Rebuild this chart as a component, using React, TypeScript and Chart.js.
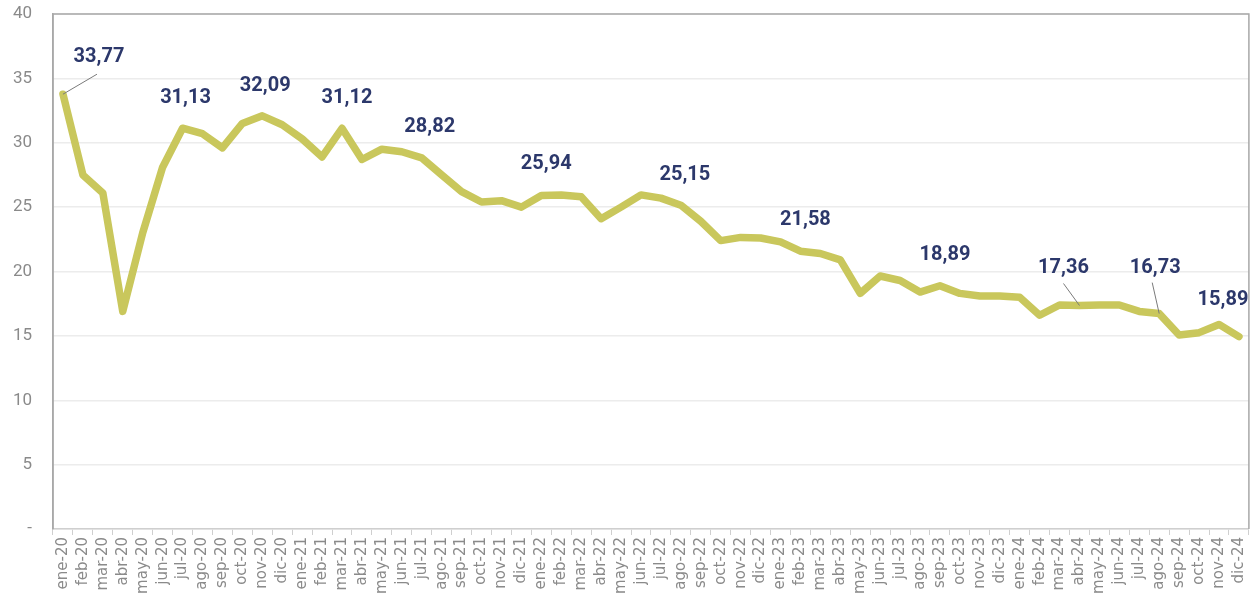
import React, { useEffect, useRef } from "react";
import { Chart, registerables } from "chart.js";

Chart.register(...registerables);

const months = ["ene", "feb", "mar", "abr", "may", "jun", "jul", "ago", "sep", "oct", "nov", "dic"];
const years = ["20", "21", "22", "23", "24"];
const categories: string[] = years.flatMap((y) => months.map((m) => `${m}-${y}`));

const values2020 = [33.77, 27.5, 26.1, 16.9, 23.0, 28.1, 31.13, 30.7, 29.6, 31.5, 32.09, 31.4];
const values2021 = [30.3, 28.9, 31.12, 28.7, 29.5, 29.3, 28.82, 27.5, 26.2, 25.4, 25.5, 25.0];
const values2022 = [25.9, 25.94, 25.8, 24.1, 25.0, 25.95, 25.7, 25.15, 23.9, 22.4, 22.65, 22.6];
const values2023 = [22.3, 21.58, 21.4, 20.9, 18.3, 19.65, 19.3, 18.4, 18.89, 18.3, 18.1, 18.1];
const values2024 = [18.0, 16.6, 17.4, 17.36, 17.4, 17.4, 16.9, 16.73, 15.07, 15.25, 15.89, 14.94];
const seriesValues = [...values2020, ...values2021, ...values2022, ...values2023, ...values2024];

const yTicks = [0, 5, 10, 15, 20, 25, 30, 35, 40];

// labelled points: category, shown text
const labelledCats = ["ene-20", "jul-20", "nov-20", "mar-21", "jul-21", "feb-22", "ago-22", "feb-23", "sep-23", "abr-24", "ago-24", "nov-24"];
const labelledTexts = ["33,77", "31,13", "32,09", "31,12", "28,82", "25,94", "25,15", "21,58", "18,89", "17,36", "16,73", "15,89"];

// label placement (pixels relative to point) and leader lines
const labelStyle: Record<string, { dx: number; dy: number; leader?: [number, number] }> = {
  "ene-20": { dx: 36, dy: -37, leader: [34, -20] },
  "jul-20": { dx: 3, dy: -30 },
  "nov-20": { dx: 3, dy: -30 },
  "mar-21": { dx: 5, dy: -30 },
  "jul-21": { dx: 8, dy: -31 },
  "feb-22": { dx: -15, dy: -31 },
  "ago-22": { dx: 4, dy: -30 },
  "feb-23": { dx: 5, dy: -31 },
  "sep-23": { dx: 5, dy: -31 },
  "abr-24": { dx: -16, dy: -37, leader: [-16, -22] },
  "ago-24": { dx: -4, dy: -46, leader: [-7, -31] },
  "nov-24": { dx: 4, dy: -24 },
};

const valueLabelsPlugin = {
  id: "valueLabels",
  afterDatasetsDraw(chart: any) {
    const meta = chart.getDatasetMeta(0);
    const ctx = chart.ctx;
    ctx.save();
    labelledCats.forEach((cat, k) => {
      const idx = categories.indexOf(cat);
      const pt = meta.data[idx];
      if (!pt) return;
      const st = labelStyle[cat];
      if (st.leader) {
        ctx.strokeStyle = "#7a7a7a";
        ctx.lineWidth = 1;
        ctx.beginPath();
        ctx.moveTo(pt.x, pt.y);
        ctx.lineTo(pt.x + st.leader[0], pt.y + st.leader[1]);
        ctx.stroke();
      }
      ctx.fillStyle = "#2c386b";
      ctx.font = "bold 20px Roboto";
      ctx.textAlign = "center";
      ctx.textBaseline = "middle";
      ctx.fillText(labelledTexts[k], pt.x + st.dx, pt.y + st.dy);
    });
    ctx.restore();
  },
};

const frameBorderPlugin = {
  id: "frameBorder",
  afterDraw(chart: any) {
    const { left, right, top, bottom } = chart.chartArea;
    const ctx = chart.ctx;
    ctx.save();
    ctx.strokeStyle = "#a8a8a8";
    ctx.lineWidth = 1.5;
    ctx.beginPath();
    ctx.moveTo(left, bottom);
    ctx.lineTo(left, top);
    ctx.lineTo(right, top);
    ctx.lineTo(right, bottom);
    ctx.stroke();
    ctx.restore();
  },
};

export default function App() {
  const ref = useRef<HTMLCanvasElement | null>(null);
  useEffect(() => {
    if (!ref.current) return;
    Chart.defaults.font.family = "Roboto";
    const chart = new Chart(ref.current, {
      type: "line",
      data: {
        labels: categories,
        datasets: [
          {
            data: seriesValues,
            borderColor: "#c9c75c",
            borderWidth: 7.5,
            pointRadius: 0,
            tension: 0,
            borderJoinStyle: "round",
            borderCapStyle: "round",
            fill: false,
          },
        ],
      },
      options: {
        animation: false,
        responsive: true,
        maintainAspectRatio: false,
        layout: { padding: { top: 0, right: 8, left: 0, bottom: 0 } },
        plugins: { legend: { display: false }, tooltip: { enabled: false } },
        scales: {
          x: {
            offset: true,
            grid: {
              display: true,
              drawOnChartArea: false,
              drawTicks: true,
              tickLength: 6,
              offset: true,
              color: "#cfcfcf",
            },
            border: { display: true, color: "#cfcfcf", width: 1.5 },
            ticks: {
              autoSkip: false,
              maxRotation: 90,
              minRotation: 90,
              padding: 2,
              color: "#8a8a8a",
              font: { family: "DejaVu Sans", size: 15 },
            },
            afterFit: (scale: any) => {
              scale.height = 76;
            },
          },
          y: {
            min: 0,
            max: 40,
            afterBuildTicks: (scale: any) => {
              scale.ticks = yTicks.map((v) => ({ value: v }));
            },
            grid: { color: "#ececec", lineWidth: 1.5, drawTicks: false },
            border: { display: true, color: "#a8a8a8", width: 1.5 },
            ticks: {
              padding: 21,
              color: "#8a8a8a",
              font: { family: "Roboto", size: 17 },
              callback: (v: any) => (Number(v) === 0 ? "-" : String(v)),
            },
            afterFit: (scale: any) => {
              scale.width = 53;
              scale.paddingTop = 14;
              scale.paddingBottom = 0;
            },
          },
        },
      },
      plugins: [valueLabelsPlugin, frameBorderPlugin],
    });
    return () => chart.destroy();
  }, []);
  return (
    <div style={{ position: "fixed", left: 0, top: 0, width: 1259, height: 605, background: "#ffffff" }}>
      <canvas ref={ref} />
    </div>
  );
}
